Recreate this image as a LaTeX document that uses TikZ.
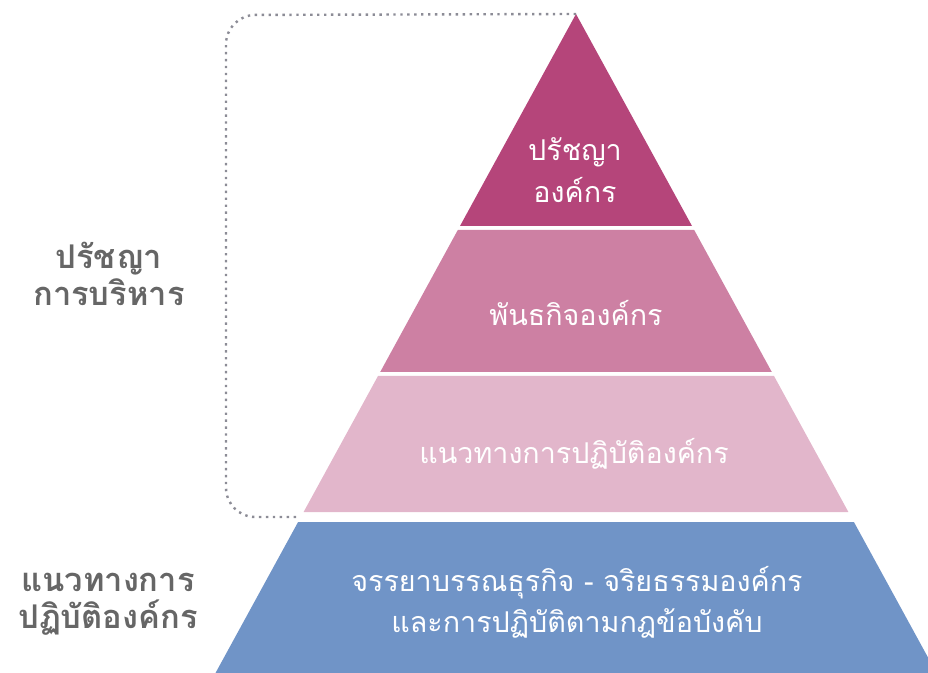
\documentclass[tikz,border=0pt]{standalone}
\usepackage{fontspec}
\newfontfamily\thaifont[Script=Thai]{Loma}
\usetikzlibrary{positioning}

\definecolor{toppink}{HTML}{B5457A}
\definecolor{midpink}{HTML}{CD80A3}
\definecolor{lowpink}{HTML}{E2B6CB}
\definecolor{baseblue}{HTML}{7094C7}
\definecolor{sidegray}{HTML}{666666}
\definecolor{dotgray}{HTML}{8C8C96}

\begin{document}
\begin{tikzpicture}[x=0.75pt,y=-0.75pt,inner sep=0pt,
	bandtext/.style={text=white,font=\thaifont\fontsize{21.5}{31}\selectfont,align=center},
	sidetext/.style={text=sidegray,font=\thaifont\bfseries\fontsize{24.5}{28}\selectfont,align=center}]

\useasboundingbox (0,0) rectangle (928,673);
\clip (0,0) rectangle (928,673);

\coordinate (T) at (576,14);
\coordinate (A1) at (460,226);
\coordinate (A2) at (692,226);
\coordinate (B1) at (457.8,230);
\coordinate (B2) at (694.2,230);
\coordinate (B3) at (771.8,372);
\coordinate (B4) at (380.2,372);
\coordinate (C1) at (378,376);
\coordinate (C2) at (774,376);
\coordinate (C3) at (848.4,512);
\coordinate (C4) at (303.6,512);
\coordinate (D1) at (298.1,522);
\coordinate (D2) at (853.9,522);
\coordinate (D3) at (936.5,673);
\coordinate (D4) at (215.5,673);

\fill [toppink] (T) -- (A2) -- (A1) -- cycle;
\fill [midpink] (B1) -- (B2) -- (B3) -- (B4) -- cycle;
\fill [lowpink] (C1) -- (C2) -- (C3) -- (C4) -- cycle;
\fill [baseblue] (D1) -- (D2) -- (D3) -- (D4) -- cycle;

\draw [dotgray,line width=1.8pt,dash pattern=on 1.8pt off 3.4pt,rounded corners=22pt]
	(T) -- (226,15) -- (226,517) -- (300,517);

\node (philo) at (575,170) [bandtext]{ปรัชญา\\องค์กร};
\node (mission) at (576,313) [bandtext]{พันธกิจองค์กร};
\node (practice) at (574,454) [bandtext]{แนวทางการปฏิบัติองค์กร};
\node (ethics) at (577,602) [bandtext]{จรรยาบรรณธุรกิจ - จริยธรรมองค์กร\\และการปฏิบัติตามกฎข้อบังคับ};

\node (mgmt) at (109,274) [sidetext]{ปรัชญา\\การบริหาร};
\node (guide) at (108,604) [sidetext]{แนวทางการ\\ปฏิบัติองค์กร};

\end{tikzpicture}
\end{document}
